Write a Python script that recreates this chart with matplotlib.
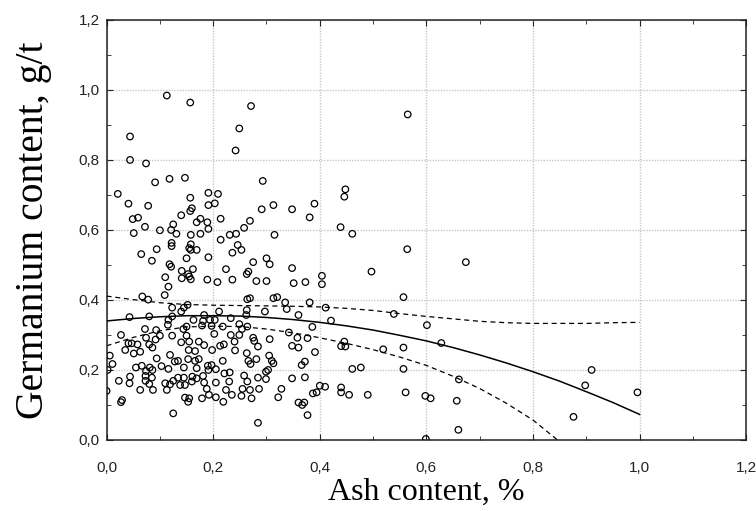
import numpy as np
import matplotlib
matplotlib.use("Agg")
import matplotlib.pyplot as plt
from matplotlib.ticker import FuncFormatter, MultipleLocator

# ash content (%) and germanium content (g/t)
ash = [
    0.113, 0.157, 0.044, 0.044, 0.074, 0.091, 0.118, 0.147, 0.021, 0.041,
    0.078, 0.049, 0.059, 0.072, 0.051, 0.100, 0.121, 0.125, 0.131, 0.140,
    0.157, 0.157, 0.122, 0.158,
    0.271, 0.249, 0.242, 0.293, 0.191, 0.209, 0.191, 0.203, 0.160, 0.176,
    0.169, 0.189, 0.214, 0.191, 0.176, 0.214, 0.231, 0.243, 0.258, 0.269,
    0.291, 0.313, 0.348, 0.381, 0.390, 0.315, 0.158, 0.246,
    0.565, 0.448, 0.446, 0.439, 0.461,
    0.065, 0.094, 0.122, 0.085, 0.118, 0.121, 0.155, 0.150, 0.141, 0.141,
    0.110, 0.116, 0.109, 0.155, 0.067, 0.078, 0.123, 0.140, 0.145, 0.152,
    0.043, 0.080, 0.123, 0.116, 0.115, 0.072, 0.093, 0.144, 0.027, 0.074,
    0.100, 0.123, 0.150, 0.092, 0.041, 0.047, 0.058, 0.080, 0.140, 0.035,
    0.063, 0.051, 0.086, 0.154, 0.006, 0.011, 0.094, 0.119, 0.134, 0.153,
    0.002, 0.055, 0.066, 0.081, 0.103, 0.116, 0.128, 0.145, 0.044, 0.074,
    0.086, 0.073, 0.085, 0.134, 0.145, 0.023, 0.043, 0.073, 0.080, 0.063,
    0.087, 0.110, 0.119, 0.113, 0.125, 0.138, 0.147, 0.000, 0.029, 0.027,
    0.147, 0.153, 0.125,
    0.158, 0.169, 0.191, 0.236, 0.253, 0.300, 0.306, 0.275, 0.162, 0.153,
    0.158, 0.224, 0.189, 0.208, 0.236, 0.263, 0.266, 0.281, 0.300, 0.348,
    0.351, 0.373, 0.264, 0.269, 0.313, 0.320, 0.335, 0.381, 0.211, 0.263,
    0.262, 0.297, 0.338, 0.360, 0.183, 0.163, 0.181, 0.194, 0.203, 0.233,
    0.179, 0.197, 0.218, 0.249, 0.264, 0.254, 0.150, 0.202, 0.233, 0.249,
    0.275, 0.306, 0.342, 0.358, 0.377, 0.348, 0.360, 0.155, 0.173, 0.183,
    0.198, 0.213, 0.220, 0.240, 0.241, 0.277, 0.284, 0.166, 0.263, 0.305,
    0.391, 0.266, 0.281, 0.310, 0.313, 0.270, 0.218, 0.173, 0.166, 0.190,
    0.197, 0.169, 0.191, 0.205, 0.221, 0.231, 0.299, 0.303, 0.366, 0.372,
    0.161, 0.160, 0.169, 0.181, 0.183, 0.205, 0.230, 0.258, 0.264, 0.284,
    0.299, 0.348, 0.372, 0.188, 0.224, 0.255, 0.269, 0.286, 0.328, 0.387,
    0.155, 0.179, 0.192, 0.205, 0.219, 0.235, 0.253, 0.272, 0.322, 0.360,
    0.367, 0.371, 0.377, 0.284,
    0.564, 0.497, 0.404, 0.404, 0.557, 0.411, 0.539, 0.421, 0.601, 0.386,
    0.446, 0.440, 0.448, 0.519, 0.557, 0.628, 0.461, 0.477, 0.557, 0.661,
    0.400, 0.410, 0.394, 0.440, 0.440, 0.455, 0.490, 0.561, 0.598, 0.608,
    0.657, 0.660, 0.599,
    0.674, 0.910, 0.898, 0.996, 0.876,
]
germanium = [
    0.984, 0.964, 0.867, 0.800, 0.790, 0.736, 0.746, 0.749, 0.703, 0.675,
    0.669, 0.631, 0.635, 0.609, 0.591, 0.599, 0.600, 0.616, 0.589, 0.642,
    0.692, 0.654, 0.563, 0.586,
    0.954, 0.890, 0.827, 0.740, 0.706, 0.703, 0.671, 0.676, 0.662, 0.632,
    0.622, 0.622, 0.632, 0.603, 0.589, 0.572, 0.586, 0.589, 0.606, 0.626,
    0.659, 0.671, 0.659, 0.636, 0.675, 0.586, 0.559, 0.557,
    0.930, 0.716, 0.695, 0.608, 0.589,
    0.531, 0.545, 0.554, 0.512, 0.502, 0.495, 0.548, 0.519, 0.483, 0.462,
    0.465, 0.438, 0.414, 0.467, 0.410, 0.401, 0.378, 0.367, 0.378, 0.386,
    0.351, 0.353, 0.353, 0.343, 0.329, 0.317, 0.314, 0.317, 0.300, 0.292,
    0.298, 0.298, 0.298, 0.287, 0.276, 0.276, 0.273, 0.273, 0.279, 0.257,
    0.252, 0.247, 0.264, 0.257, 0.241, 0.217, 0.233, 0.243, 0.226, 0.231,
    0.200, 0.207, 0.212, 0.207, 0.211, 0.203, 0.224, 0.207, 0.181, 0.197,
    0.200, 0.183, 0.178, 0.178, 0.178, 0.169, 0.162, 0.169, 0.160, 0.143,
    0.143, 0.162, 0.159, 0.143, 0.169, 0.157, 0.157, 0.140, 0.114, 0.108,
    0.121, 0.109, 0.076,
    0.543, 0.543, 0.522, 0.535, 0.543, 0.519, 0.502, 0.508, 0.488, 0.474,
    0.459, 0.488, 0.458, 0.451, 0.458, 0.474, 0.481, 0.454, 0.454, 0.491,
    0.448, 0.451, 0.402, 0.405, 0.405, 0.408, 0.393, 0.393, 0.367, 0.371,
    0.357, 0.367, 0.374, 0.357, 0.357, 0.343, 0.340, 0.343, 0.343, 0.348,
    0.327, 0.326, 0.324, 0.331, 0.324, 0.317, 0.324, 0.303, 0.300, 0.300,
    0.292, 0.288, 0.307, 0.292, 0.291, 0.269, 0.264, 0.281, 0.281, 0.271,
    0.257, 0.269, 0.273, 0.281, 0.256, 0.283, 0.267, 0.254, 0.248, 0.241,
    0.251, 0.226, 0.231, 0.226, 0.219, 0.217, 0.226, 0.231, 0.226, 0.212,
    0.214, 0.205, 0.200, 0.202, 0.190, 0.193, 0.195, 0.200, 0.214, 0.224,
    0.181, 0.167, 0.176, 0.183, 0.164, 0.164, 0.167, 0.184, 0.167, 0.178,
    0.174, 0.176, 0.179, 0.146, 0.143, 0.146, 0.143, 0.146, 0.146, 0.133,
    0.119, 0.119, 0.129, 0.122, 0.109, 0.129, 0.126, 0.119, 0.122, 0.107,
    0.100, 0.107, 0.071, 0.049,
    0.545, 0.481, 0.469, 0.445, 0.408, 0.378, 0.360, 0.341, 0.328, 0.323,
    0.281, 0.268, 0.267, 0.259, 0.264, 0.277, 0.203, 0.207, 0.203, 0.173,
    0.155, 0.152, 0.136, 0.150, 0.136, 0.129, 0.129, 0.136, 0.126, 0.119,
    0.112, 0.029, 0.003,
    0.508, 0.200, 0.156, 0.136, 0.066,
]

# regression curve and 95% band
fit_x = [0.00, 0.05, 0.10, 0.15, 0.20, 0.25, 0.30, 0.35, 0.40, 0.45, 0.50,
         0.55, 0.60, 0.65, 0.70, 0.75, 0.80, 0.85, 0.90, 0.95, 1.00]
fit_y = [0.340, 0.347, 0.352, 0.355, 0.355, 0.354, 0.350, 0.344, 0.336, 0.326, 0.314,
         0.299, 0.283, 0.264, 0.243, 0.220, 0.195, 0.168, 0.138, 0.107, 0.073]
upper_y = [0.411, 0.401, 0.392, 0.387, 0.385, 0.384, 0.383, 0.382, 0.380, 0.376, 0.370,
           0.361, 0.353, 0.346, 0.339, 0.335, 0.333, 0.333, 0.333, 0.335, 0.336]
lower_y = [0.269, 0.293, 0.312, 0.323, 0.325, 0.324, 0.317, 0.306, 0.292, 0.276, 0.258,
           0.237, 0.213, 0.182, 0.147, 0.105, 0.057, -0.005, -0.057, -0.121, -0.190]

fig = plt.figure(figsize=(7.56, 5.11), dpi=100)
ax = fig.add_axes([0.141, 0.139, 0.846, 0.822])

ax.scatter(ash, germanium, s=22, facecolors="none", edgecolors="black", linewidths=0.9, zorder=3)
ax.plot(fit_x, fit_y, color="black", lw=1.1, zorder=4)
ax.plot(fit_x, upper_y, color="black", lw=0.9, ls=(0, (4, 3)), zorder=4)
ax.plot(fit_x, lower_y, color="black", lw=0.9, ls=(0, (4, 3)), zorder=4)

ax.set_xlim(0, 1.2)
ax.set_ylim(0, 1.2)
ax.xaxis.set_major_locator(MultipleLocator(0.2))
ax.yaxis.set_major_locator(MultipleLocator(0.2))
ax.xaxis.set_minor_locator(MultipleLocator(0.1))
ax.yaxis.set_minor_locator(MultipleLocator(0.1))
comma = FuncFormatter(lambda v, _: f"{v:.1f}".replace(".", ","))
ax.xaxis.set_major_formatter(comma)
ax.yaxis.set_major_formatter(comma)

ax.grid(True, which="major", color="#c8c8c8", lw=1.0, ls=(0, (1, 1)))
ax.set_axisbelow(True)
for sp in ax.spines.values():
    sp.set_linewidth(1.1)
    sp.set_color("#222222")

ax.tick_params(which="both", direction="in", top=True, right=True, colors="#222222")
ax.tick_params(which="major", length=4, labelsize=11)
ax.tick_params(which="minor", length=3)
ax.tick_params(axis="x", which="major", pad=15)
ax.tick_params(axis="y", which="major", pad=5)
for lab in ax.get_xticklabels() + ax.get_yticklabels():
    lab.set_family("Liberation Sans")

ax.set_xlabel("Ash content, %", family="Liberation Serif", fontsize=23, labelpad=2)
ax.set_ylabel("Germanium content, g/t", family="Liberation Serif", fontsize=28.5, labelpad=19)

fig.savefig("out.png", dpi=100)
